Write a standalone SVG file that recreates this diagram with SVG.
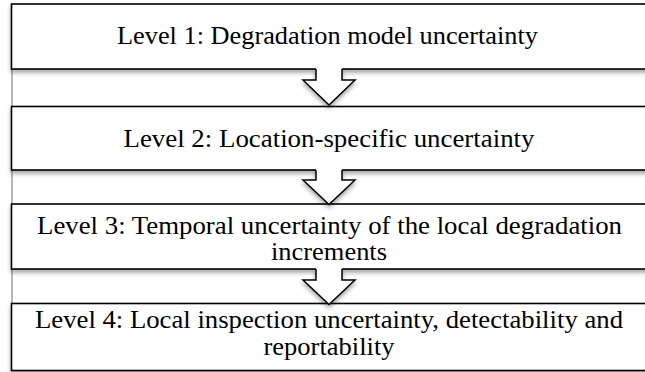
<svg xmlns="http://www.w3.org/2000/svg" width="645" height="372" viewBox="0 0 645 372">
<defs>
<filter id="sh" x="-10%" y="-20%" width="120%" height="150%">
<feDropShadow dx="0" dy="3" stdDeviation="2" flood-color="#000" flood-opacity="0.35"/>
</filter>
</defs>
<style>
.box{fill:#fff;stroke:#000;stroke-width:1.6}
.lbl{font-family:'Liberation Serif','Times New Roman',serif;font-size:25px;fill:#000}
.af{fill:#fff;stroke:none}
.as{fill:none;stroke:#000;stroke-width:1.5;stroke-linejoin:miter}
</style>
<rect width="645" height="372" fill="#fff"/>
<line x1="12" y1="4" x2="12" y2="371" stroke="#888" stroke-width="1.2"/>
<g id="level1">
<rect class="box" x="11.5" y="4" width="700" height="65" filter="url(#sh)"/>
<text class="lbl" x="117" y="44" textLength="421" lengthAdjust="spacingAndGlyphs">Level 1: Degradation model uncertainty</text>
</g>
<g id="level2">
<rect class="box" x="11.5" y="106.5" width="700" height="63.5" filter="url(#sh)"/>
<text class="lbl" x="123.5" y="147" textLength="411" lengthAdjust="spacingAndGlyphs">Level 2: Location-specific uncertainty</text>
</g>
<g id="level3">
<rect class="box" x="11.5" y="204" width="700" height="65" filter="url(#sh)"/>
<text class="lbl" x="37" y="234" textLength="585" lengthAdjust="spacingAndGlyphs">Level 3: Temporal uncertainty of the local degradation</text>
<text class="lbl" x="271" y="260" textLength="116" lengthAdjust="spacingAndGlyphs">increments</text>
</g>
<g id="level4">
<rect class="box" x="11.5" y="303.5" width="700" height="67" filter="url(#sh)"/>
<text class="lbl" x="35" y="328" textLength="588" lengthAdjust="spacingAndGlyphs">Level 4: Local inspection uncertainty, detectability and</text>
<text class="lbl" x="263.5" y="355" textLength="131" lengthAdjust="spacingAndGlyphs">reportability</text>
</g>
<g id="connectors">
<g filter="url(#sh)">
<path class="af" d="M316,67.8 L316,80 L303,80 L329,105 L355,80 L342,80 L342,67.8 Z"/>
<path class="as" d="M316,69 L316,80 L303,80 L329,105 L355,80 L342,80 L342,69"/>
</g>
<g filter="url(#sh)">
<path class="af" d="M316,168.8 L316,180 L303,180 L329,204.5 L355,180 L342,180 L342,168.8 Z"/>
<path class="as" d="M316,170 L316,180 L303,180 L329,204.5 L355,180 L342,180 L342,170"/>
</g>
<g filter="url(#sh)">
<path class="af" d="M316,267.8 L316,280 L303,280 L329,304.5 L355,280 L342,280 L342,267.8 Z"/>
<path class="as" d="M316,269 L316,280 L303,280 L329,304.5 L355,280 L342,280 L342,269"/>
</g>
</g>
</svg>
